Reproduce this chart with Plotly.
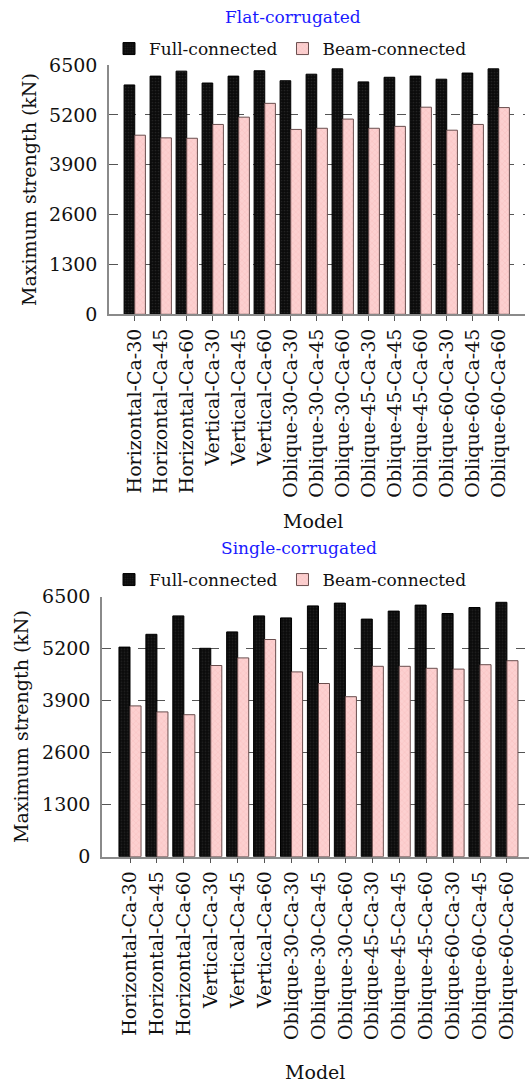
import plotly.graph_objects as go

W, H = 531, 1084

categories = ["Horizontal-Ca-30", "Horizontal-Ca-45", "Horizontal-Ca-60",
              "Vertical-Ca-30", "Vertical-Ca-45", "Vertical-Ca-60",
              "Oblique-30-Ca-30", "Oblique-30-Ca-45", "Oblique-30-Ca-60",
              "Oblique-45-Ca-30", "Oblique-45-Ca-45", "Oblique-45-Ca-60",
              "Oblique-60-Ca-30", "Oblique-60-Ca-45", "Oblique-60-Ca-60"]

flat_full = [5980, 6210, 6340, 6030, 6210, 6350, 6090, 6260, 6400, 6060, 6180, 6210, 6130, 6290, 6400]
flat_beam = [4670, 4600, 4590, 4950, 5140, 5500, 4820, 4850, 5090, 4850, 4900, 5400, 4800, 4950, 5390]
single_full = [5240, 5560, 6020, 5210, 5620, 6020, 5970, 6270, 6340, 5940, 6140, 6290, 6080, 6230, 6360]
single_beam = [3770, 3620, 3550, 4780, 4970, 5430, 4620, 4330, 4000, 4760, 4760, 4710, 4690, 4800, 4900]

y_ticks = [0, 1300, 2600, 3900, 5200, 6500]
series_names = ["Full-connected", "Beam-connected"]
panel_titles = ["Flat-corrugated", "Single-corrugated"]

FONT = "DejaVu Serif"

def px_x(p):
    return p / W

def px_y(p):
    return 1 - p / H

full_style = dict(color="#0b0b0b", line=dict(color="#000000", width=1),
                  pattern=dict(shape=".", fgcolor="#3a3a3a", bgcolor="#0b0b0b", size=3, solidity=0.25))
beam_style = dict(color="#fcc4c4", line=dict(color="#6a4e4e", width=1),
                  pattern=dict(shape="x", fgcolor="#f29a9a", bgcolor="#fcd0d0", size=4, solidity=0.15))

fig = go.Figure()
fig.add_trace(go.Bar(x=categories, y=flat_full, name=series_names[0], marker=full_style,
                     xaxis="x", yaxis="y", legend="legend"))
fig.add_trace(go.Bar(x=categories, y=flat_beam, name=series_names[1], marker=beam_style,
                     xaxis="x", yaxis="y", legend="legend"))
fig.add_trace(go.Bar(x=categories, y=single_full, name=series_names[0], marker=full_style,
                     xaxis="x2", yaxis="y2", legend="legend2"))
fig.add_trace(go.Bar(x=categories, y=single_beam, name=series_names[1], marker=beam_style,
                     xaxis="x2", yaxis="y2", legend="legend2"))

xcommon = dict(type="category", tickangle=-90, ticks="outside", ticklen=5, tickcolor="#555",
               showline=True, linecolor="#8a8a8a", linewidth=1.5, showgrid=False,
               tickfont=dict(family=FONT, size=19, color="#111"), automargin=False)
ycommon = dict(range=[0, 6500], tickvals=y_ticks, ticks="", showline=True, linecolor="#8a8a8a",
               linewidth=1.5, showgrid=True, gridcolor="#555", griddash="dash", gridwidth=1,
               zeroline=False, tickfont=dict(family=FONT, size=19, color="#111"),
               ticklabelstandoff=6, automargin=False)

legend_common = dict(orientation="h", xanchor="left", yanchor="middle",
                     font=dict(family=FONT, size=17, color="#111"), bgcolor="rgba(0,0,0,0)",
                     itemwidth=30, tracegroupgap=0)

fig.update_layout(
    width=W, height=H, margin=dict(l=0, r=0, t=0, b=0),
    paper_bgcolor="white", plot_bgcolor="white",
    barmode="group", bargap=0.18, bargroupgap=0,
    font=dict(family=FONT, color="#111"),
    xaxis=dict(domain=[px_x(109), px_x(525)], anchor="y", range=[-0.99, 15.01], **xcommon),
    yaxis=dict(domain=[px_y(314.3), px_y(65)], anchor="x", **ycommon),
    xaxis2=dict(domain=[px_x(102), px_x(529)], anchor="y2", range=[-1.04, 14.82], **xcommon),
    yaxis2=dict(domain=[px_y(856.7), px_y(596.7)], anchor="x2", **ycommon),
    legend=dict(x=px_x(109), y=px_y(49), **legend_common),
    legend2=dict(x=px_x(109), y=px_y(580), **legend_common),
    annotations=[
        dict(text=panel_titles[0], x=px_x(293), y=px_y(17), xref="paper", yref="paper",
             showarrow=False, xanchor="center", yanchor="middle",
             font=dict(family=FONT, size=17, color="#1a1aff")),
        dict(text=panel_titles[1], x=px_x(299), y=px_y(548), xref="paper", yref="paper",
             showarrow=False, xanchor="center", yanchor="middle",
             font=dict(family=FONT, size=17, color="#1a1aff")),
        dict(text="Model", x=px_x(313), y=px_y(521), xref="paper", yref="paper",
             showarrow=False, xanchor="center", yanchor="middle",
             font=dict(family=FONT, size=19, color="#111")),
        dict(text="Model", x=px_x(315), y=px_y(1072), xref="paper", yref="paper",
             showarrow=False, xanchor="center", yanchor="middle",
             font=dict(family=FONT, size=19, color="#111")),
        dict(text="Maximum strength (kN)", x=px_x(29), y=px_y(190), xref="paper", yref="paper",
             showarrow=False, xanchor="center", yanchor="middle", textangle=-90,
             font=dict(family=FONT, size=19, color="#111")),
        dict(text="Maximum strength (kN)", x=px_x(21), y=px_y(727), xref="paper", yref="paper",
             showarrow=False, xanchor="center", yanchor="middle", textangle=-90,
             font=dict(family=FONT, size=19, color="#111")),
    ],
)

fig.write_html("out.html")
